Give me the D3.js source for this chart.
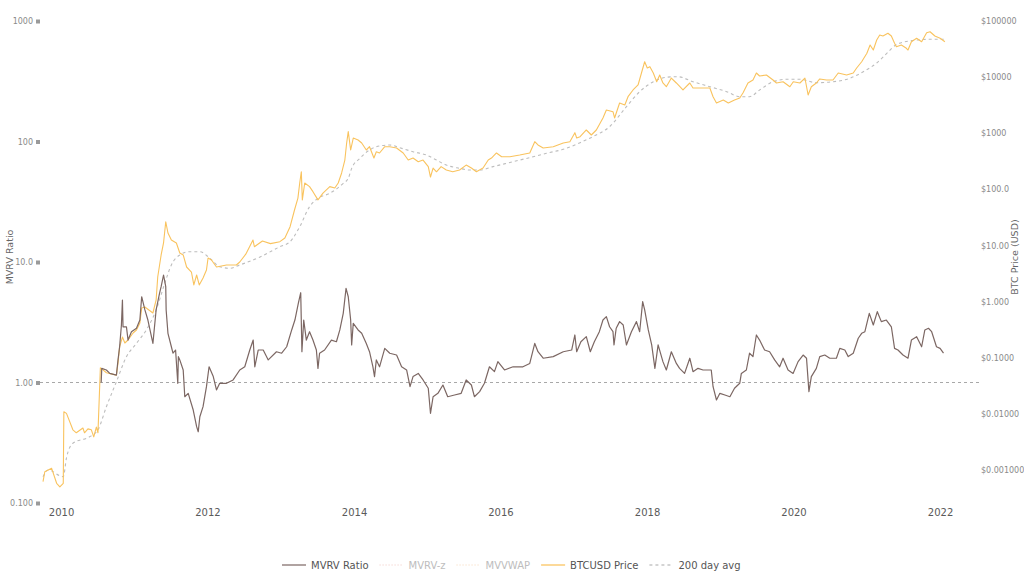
<!DOCTYPE html>
<html><head><meta charset="utf-8">
<script src="https://cdn.jsdelivr.net/npm/d3@7"></script>
<style>
body{margin:0;background:#fff;}
svg{display:block;font-family:"DejaVu Sans",Verdana,sans-serif;}
</style>
</head><body>
<svg id="chart" width="1024" height="588"></svg>
<script>
// ---------- DATA ----------
const mvrvRatio = [
["2010-07-20",1.0],["2010-07-23",1.31],["2010-08-15",1.27],["2010-09-01",1.19],["2010-10-04",1.15],
["2010-10-12",1.54],["2010-10-20",1.98],["2010-10-29",3.0],["2010-11-03",4.84],["2010-11-06",2.9],
["2010-11-23",2.9],["2010-12-01",2.25],["2010-12-18",2.64],["2011-01-12",2.82],["2011-01-29",3.3],
["2011-02-07",5.15],["2011-02-23",4.0],["2011-03-10",3.3],["2011-04-04",2.11],["2011-04-20",4.0],
["2011-05-07",5.5],["2011-05-15",6.24],["2011-05-27",7.8],["2011-06-07",6.24],["2011-06-09",4.0],
["2011-06-18",2.56],["2011-07-05",1.98],["2011-07-13",1.75],["2011-07-26",1.86],["2011-08-06",0.985],
["2011-08-09",1.64],["2011-08-16",1.54],["2011-09-02",1.27],["2011-09-10",0.762],["2011-09-27",0.813],
["2011-10-22",0.591],["2011-11-08",0.43],["2011-11-16",0.39],["2011-11-24",0.52],["2011-12-10",0.63],
["2011-12-27",0.923],["2012-01-09",1.35],["2012-01-30",1.12],["2012-02-15",0.867],["2012-03-02",0.985],
["2012-04-05",0.985],["2012-05-08",1.05],["2012-06-10",1.27],["2012-07-05",1.35],["2012-07-30",1.86],
["2012-08-16",2.25],["2012-08-24",1.35],["2012-09-10",1.86],["2012-10-05",1.86],["2012-10-30",1.54],
["2012-12-10",1.8],["2013-01-05",1.75],["2013-01-30",1.98],["2013-02-24",2.73],["2013-03-12",3.3],
["2013-03-29",4.54],["2013-04-10",5.56],["2013-04-16",1.8],["2013-04-25",3.3],["2013-05-08",2.25],
["2013-05-24",2.64],["2013-06-10",2.25],["2013-06-27",1.86],["2013-07-05",1.31],["2013-07-13",1.75],
["2013-08-07",1.86],["2013-09-10",2.25],["2013-10-05",2.18],["2013-10-22",2.73],["2013-11-08",3.75],
["2013-11-22",6.05],["2013-12-03",5.15],["2013-12-15",3.3],["2013-12-20",2.05],["2013-12-28",3.1],
["2014-01-21",2.73],["2014-02-08",2.56],["2014-03-03",2.11],["2014-03-19",1.8],["2014-04-05",1.35],
["2014-04-13",1.12],["2014-04-22",1.54],["2014-05-08",1.35],["2014-06-03",1.92],["2014-06-28",1.75],
["2014-08-01",1.69],["2014-08-26",1.35],["2014-09-20",1.27],["2014-10-07",0.923],["2014-10-22",1.12],
["2014-11-17",1.19],["2014-12-11",1.05],["2015-01-06",0.895],["2015-01-17",0.555],["2015-01-30",0.762],
["2015-02-23",0.813],["2015-03-20",0.953],["2015-04-13",0.762],["2015-05-17",0.787],["2015-06-19",0.813],
["2015-07-14",1.05],["2015-08-09",0.953],["2015-08-24",0.762],["2015-09-19",0.84],["2015-10-13",0.985],
["2015-11-07",1.35],["2015-12-02",1.23],["2015-12-19",1.49],["2016-01-21",1.27],["2016-03-04",1.35],
["2016-04-22",1.35],["2016-05-26",1.44],["2016-06-20",2.11],["2016-07-06",1.8],["2016-08-01",1.59],
["2016-09-20",1.64],["2016-11-09",1.8],["2016-12-21",1.86],["2017-01-06",2.48],["2017-01-15",1.8],
["2017-02-05",2.18],["2017-03-04",2.4],["2017-03-24",1.8],["2017-04-13",2.18],["2017-05-08",2.64],
["2017-05-26",3.3],["2017-06-12",3.52],["2017-06-28",2.9],["2017-07-15",2.64],["2017-07-20",2.05],
["2017-07-31",2.82],["2017-08-17",3.2],["2017-09-04",3.0],["2017-09-20",2.05],["2017-10-15",2.64],
["2017-11-09",3.2],["2017-11-25",2.64],["2017-12-10",4.69],["2017-12-20",4.0],["2018-01-07",2.73],
["2018-01-24",2.05],["2018-02-09",1.31],["2018-02-25",2.05],["2018-03-21",1.49],["2018-04-07",1.27],
["2018-05-02",1.8],["2018-05-27",1.44],["2018-06-12",1.31],["2018-07-07",1.19],["2018-08-02",1.59],
["2018-08-18",1.23],["2018-09-12",1.31],["2018-10-07",1.27],["2018-11-17",1.27],["2018-11-26",0.923],
["2018-12-13",0.716],["2018-12-30",0.813],["2019-01-24",0.787],["2019-02-18",0.762],["2019-03-13",0.895],
["2019-04-08",0.985],["2019-04-16",1.19],["2019-05-11",1.27],["2019-05-27",1.75],["2019-06-13",1.64],
["2019-06-30",2.48],["2019-07-16",2.25],["2019-08-10",1.86],["2019-09-04",1.8],["2019-09-29",1.54],
["2019-10-24",1.35],["2019-11-10",1.59],["2019-12-05",1.27],["2019-12-30",1.19],["2020-01-24",1.49],
["2020-02-18",1.69],["2020-03-06",1.59],["2020-03-18",0.84],["2020-03-30",1.12],["2020-04-24",1.31],
["2020-05-11",1.64],["2020-06-05",1.69],["2020-06-30",1.59],["2020-08-02",1.59],["2020-08-19",1.92],
["2020-09-13",1.86],["2020-09-30",1.64],["2020-10-25",1.75],["2020-11-19",2.33],["2020-12-06",2.56],
["2020-12-22",2.64],["2021-01-13",3.75],["2021-02-02",3.0],["2021-02-22",3.87],["2021-03-14",3.2],
["2021-04-08",3.3],["2021-05-03",2.9],["2021-05-19",1.92],["2021-06-05",1.86],["2021-06-30",1.69],
["2021-07-25",1.59],["2021-08-11",2.25],["2021-09-06",2.4],["2021-10-01",1.98],["2021-10-17",2.73],
["2021-11-04",2.82],["2021-11-20",2.64],["2021-12-14",1.98],["2022-01-01",1.92],["2022-01-18",1.75]
];

const btcPrice = [
["2009-10-03",0.00062],["2009-10-12",0.00093],["2009-11-15",0.00107],["2009-12-10",0.00058],["2009-12-26",0.00050],
["2010-01-12",0.00058],["2010-01-15",0.0109],["2010-01-28",0.0102],["2010-03-01",0.0052],["2010-03-18",0.0046],
["2010-04-20",0.0056],["2010-04-28",0.0046],["2010-05-15",0.0054],["2010-06-01",0.0052],["2010-06-13",0.0039],
["2010-06-26",0.0058],["2010-07-04",0.0046],["2010-07-16",0.066],["2010-07-29",0.061],["2010-08-15",0.054],
["2010-10-04",0.049],["2010-10-12",0.081],["2010-10-20",0.156],["2010-11-03",0.234],["2010-11-15",0.183],
["2010-12-01",0.207],["2010-12-26",0.276],["2011-01-12",0.312],["2011-01-29",0.416],["2011-02-07",0.77],
["2011-02-23",0.80],["2011-04-04",0.627],["2011-04-20",1.07],["2011-04-28",2.75],["2011-05-15",6.78],
["2011-05-27",11.1],["2011-06-07",26.5],["2011-06-18",16.7],["2011-07-05",12.5],["2011-07-30",11.1],
["2011-08-16",7.35],["2011-09-02",6.78],["2011-09-19",4.14],["2011-10-13",3.37],["2011-10-25",1.98],
["2011-11-08",2.98],["2011-11-21",1.98],["2011-12-10",2.64],["2011-12-27",3.66],["2012-01-04",5.98],
["2012-01-21",5.52],["2012-02-15",4.14],["2012-04-05",4.5],["2012-05-24",4.5],["2012-06-10",5.08],
["2012-07-10",7.0],["2012-08-15",12.5],["2012-08-22",9.5],["2012-10-01",12.0],["2012-11-10",10.8],
["2012-12-27",11.7],["2013-01-21",13.6],["2013-02-16",21.6],["2013-03-10",42.9],["2013-03-27",70],
["2013-04-05",130],["2013-04-13",206],["2013-04-18",65],["2013-04-30",130],["2013-05-24",112],
["2013-06-10",91],["2013-07-05",65],["2013-07-30",86],["2013-09-02",112],["2013-09-27",106],
["2013-10-14",130],["2013-10-31",196],["2013-11-16",333],["2013-11-25",670],["2013-12-03",1067],
["2013-12-15",503],["2013-12-28",822],["2014-01-21",759],["2014-02-08",670],["2014-03-03",503],
["2014-03-19",576],["2014-04-10",362],["2014-04-22",469],["2014-05-08",445],["2014-06-03",576],
["2014-06-28",576],["2014-08-01",546],["2014-09-03",445],["2014-09-28",333],["2014-10-22",362],
["2014-11-17",311],["2014-12-11",333],["2015-01-06",254],["2015-01-17",166],["2015-01-30",240],
["2015-02-16",206],["2015-03-11",254],["2015-04-06",221],["2015-05-08",206],["2015-06-11",221],
["2015-07-14",271],["2015-08-09",240],["2015-09-03",206],["2015-10-06",240],["2015-11-01",333],
["2015-11-17",362],["2015-12-12",445],["2016-01-07",382],["2016-02-17",382],["2016-04-06",409],
["2016-05-26",445],["2016-06-20",708],["2016-07-06",618],["2016-08-01",546],["2016-09-20",576],
["2016-11-09",670],["2016-12-12",708],["2017-01-06",1023],["2017-01-15",822],["2017-02-01",869],
["2017-03-04",1143],["2017-03-29",931],["2017-04-23",1143],["2017-05-26",1871],["2017-06-12",2594],
["2017-07-15",2421],["2017-07-23",1871],["2017-08-17",3459],["2017-09-12",3186],["2017-09-28",4480],
["2017-10-23",5902],["2017-11-17",7244],["2017-12-04",11850],["2017-12-20",18800],["2018-01-02",14540],
["2018-01-15",15340],["2018-02-01",11850],["2018-02-18",8280],["2018-03-05",10920],["2018-03-21",7860],
["2018-04-07",6750],["2018-05-02",9640],["2018-05-27",7860],["2018-06-29",5902],["2018-08-02",7860],
["2018-08-18",6400],["2018-09-21",6400],["2018-11-10",6400],["2018-11-26",4480],["2018-12-13",3459],
["2019-01-16",3910],["2019-02-10",3459],["2019-03-13",3910],["2019-04-08",4250],["2019-04-24",5210],
["2019-05-19",7860],["2019-06-13",8890],["2019-06-30",11850],["2019-07-16",10470],["2019-08-19",10920],
["2019-09-21",8890],["2019-10-08",7860],["2019-11-10",8280],["2019-12-14",6750],["2019-12-31",8280],
["2020-02-02",7860],["2020-02-27",9640],["2020-03-14",4800],["2020-03-30",6750],["2020-04-24",7860],
["2020-05-11",9270],["2020-06-14",8890],["2020-07-16",8890],["2020-08-11",11850],["2020-09-22",10920],
["2020-10-25",11850],["2020-11-11",14540],["2020-12-06",18800],["2021-01-01",26700],["2021-01-17",37350],
["2021-02-02",30400],["2021-02-19",45850],["2021-03-06",56300],["2021-03-22",54000],["2021-04-16",60400],
["2021-05-03",54000],["2021-05-19",40100],["2021-05-28",34800],["2021-06-22",37350],["2021-07-17",32650],
["2021-07-25",30400],["2021-08-11",42800],["2021-09-06",49200],["2021-10-01",42800],["2021-10-26",61900],
["2021-11-12",64400],["2021-12-06",54000],["2022-01-01",49200],["2022-01-25",42800]
];

const btcPrice200d = [
["2009-10-03",0.00076],["2009-10-28",0.0010],["2010-01-12",0.00076],["2010-01-28",0.00164],["2010-03-01",0.0030],
["2010-05-23",0.0039],["2010-07-04",0.0052],["2010-08-15",0.0134],["2010-10-04",0.0374],["2010-11-23",0.1045],
["2011-01-12",0.181],["2011-03-02",0.312],["2011-04-20",0.709],["2011-06-02",2.12],["2011-07-05",4.5],
["2011-08-16",6.78],["2011-10-05",7.76],["2011-11-24",7.76],["2012-01-13",5.91],["2012-03-02",4.19],
["2012-04-21",3.93],["2012-06-10",4.5],["2012-09-17",6.2],["2012-12-27",9.52],["2013-02-16",11.7],
["2013-04-05",21.6],["2013-05-24",49.1],["2013-07-05",69.3],["2013-09-02",85.1],["2013-11-08",128],
["2013-12-03",157],["2013-12-20",237],["2014-01-30",358],["2014-03-19",503],["2014-05-08",593],
["2014-06-28",618],["2014-08-16",552],["2014-10-22",469],["2014-12-28",409],["2015-02-16",333],
["2015-04-06",271],["2015-06-11",237],["2015-07-31",221],["2015-09-19",221],["2015-11-25",254],
["2016-03-04",311],["2016-06-12",382],["2016-08-17",440],["2016-11-09",517],["2017-02-01",679],
["2017-04-05",869],["2017-06-28",1309],["2017-09-20",2973],["2017-11-25",5500],["2018-02-01",8280],
["2018-04-07",9930],["2018-06-03",10180],["2018-08-18",8280],["2018-11-10",6750],["2019-02-02",5500],
["2019-04-08",4480],["2019-05-27",4480],["2019-07-16",5902],["2019-09-21",8280],["2019-11-28",9150],
["2020-02-02",9150],["2020-04-24",7960],["2020-07-16",8280],["2020-10-08",9530],["2020-12-14",12500],
["2021-02-19",17850],["2021-04-15",27500],["2021-05-29",38150],["2021-08-19",45000],["2021-11-12",47200],
["2022-01-19",47200]
];

const mvrvTickValues = [0.1, 1, 10, 100, 1000];
const mvrvTickLabels = ["0.100", "1.00", "10.0", "100", "1000"];
const priceTickValues = [0.001, 0.01, 0.1, 1, 10, 100, 1000, 10000, 100000];
const priceTickLabels = ["$0.001000", "$0.01000", "$0.1000", "$1.000", "$10.00", "$100.0", "$1000", "$10000", "$100000"];
const yearTicks = [2010, 2012, 2014, 2016, 2018, 2020, 2022];
const legendLabels = ["MVRV Ratio", "MVRV-z", "MVVWAP", "BTCUSD Price", "200 day avg"];
const referenceLevel = 1;

// ---------- CHART ----------
const svg = d3.select("#chart");
const parse = d3.utcParse("%Y-%m-%d");
const toPts = arr => arr.map(d => ({date: parse(d[0]), value: d[1]}));

const plot = {left: 40, right: 980, top: 21, bottom: 503};

const x = d3.scaleUtc()
  .domain([Date.UTC(2009, 8, 18), Date.UTC(2022, 6, 19)])
  .range([plot.left, plot.right]);
const yL = d3.scaleLog().domain([0.1, 1000]).range([plot.bottom, plot.top]);
const yR = d3.scaleLog().domain([0.001, 100000]).range([470, plot.top]);

const COL_MVRV = "#7c6763";
const COL_PRICE = "#f9c35e";
const COL_AVG = "#bdbdbd";

// reference line at MVRV = 1
svg.append("line")
  .attr("x1", plot.left).attr("x2", plot.right)
  .attr("y1", yL(referenceLevel)).attr("y2", yL(referenceLevel))
  .attr("stroke", "#a8a8a8").attr("stroke-width", 1).attr("stroke-dasharray", "3,3");

// 200 day avg
const lineR = d3.line().x(d => x(d.date)).y(d => yR(d.value)).curve(d3.curveMonotoneX);
svg.append("path").datum(toPts(btcPrice200d))
  .attr("d", lineR).attr("fill", "none")
  .attr("stroke", COL_AVG).attr("stroke-width", 1.1).attr("stroke-dasharray", "3,3");

// price
const lineRaw = d3.line().x(d => x(d.date)).y(d => yR(d.value));
svg.append("path").datum(toPts(btcPrice))
  .attr("d", lineRaw).attr("fill", "none")
  .attr("stroke", COL_PRICE).attr("stroke-width", 1.1).attr("stroke-linejoin", "round");

// MVRV
const lineL = d3.line().x(d => x(d.date)).y(d => yL(d.value));
svg.append("path").datum(toPts(mvrvRatio))
  .attr("d", lineL).attr("fill", "none")
  .attr("stroke", COL_MVRV).attr("stroke-width", 1.2).attr("stroke-linejoin", "round");

// left axis
const leftAxis = d3.axisLeft(yL).tickValues(mvrvTickValues)
  .tickFormat((d, i) => mvrvTickLabels[i]).tickSize(0).tickPadding(6);
const gL = svg.append("g").attr("transform", `translate(${plot.left - 1},0)`).call(leftAxis);
gL.select(".domain").remove();
gL.selectAll("text").attr("font-size", 8).attr("fill", "#8a8a8a")
  .attr("font-family", '"DejaVu Sans",Verdana,sans-serif');
gL.selectAll(".tick").append("rect")
  .attr("x", -3).attr("y", -2).attr("width", 4).attr("height", 4).attr("fill", "#9a9a9a");

// right axis
const rightAxis = d3.axisRight(yR).tickValues(priceTickValues)
  .tickFormat((d, i) => priceTickLabels[i]).tickSize(0).tickPadding(1);
const gR = svg.append("g").attr("transform", `translate(${plot.right},0)`).call(rightAxis);
gR.select(".domain").remove();
gR.selectAll("text").attr("font-size", 8).attr("fill", "#8a8a8a")
  .attr("font-family", '"DejaVu Sans",Verdana,sans-serif');

// bottom axis
const bottomAxis = d3.axisBottom(x)
  .tickValues(yearTicks.map(yr => new Date(Date.UTC(yr, 0, 1))))
  .tickFormat(d3.utcFormat("%Y")).tickSize(0).tickPadding(6);
const gB = svg.append("g").attr("transform", `translate(0,${plot.bottom})`).call(bottomAxis);
gB.select(".domain").remove();
gB.selectAll("text").attr("font-size", 10).attr("fill", "#5a5a5a")
  .attr("font-family", '"DejaVu Sans",Verdana,sans-serif');

// axis titles
const midY = (plot.top + plot.bottom) / 2;
svg.append("text").attr("transform", `translate(13,${midY - 5}) rotate(-90)`)
  .attr("text-anchor", "middle").attr("font-size", 9.5).attr("fill", "#666").text("MVRV Ratio");
svg.append("text").attr("transform", `translate(1018,${midY - 5}) rotate(-90)`)
  .attr("text-anchor", "middle").attr("font-size", 9.5).attr("fill", "#666").text("BTC Price (USD)");

// legend
const legendStyles = [
  {stroke: COL_MVRV, dash: null, sw: 1.5, text: "#555", opacity: 0.8},
  {stroke: "#f2c7c1", dash: "1,2", sw: 1.2, text: "#bdbdbd", opacity: 1},
  {stroke: "#f6d6b8", dash: "1,2", sw: 1.2, text: "#bdbdbd", opacity: 1},
  {stroke: COL_PRICE, dash: null, sw: 1.5, text: "#555", opacity: 0.85},
  {stroke: "#aaaaaa", dash: "3,3", sw: 1.1, text: "#555", opacity: 1}
];
const legendY = 565;
const legend = svg.append("g");
let lx = 282;
legendLabels.forEach((label, i) => {
  const st = legendStyles[i];
  const g = legend.append("g").attr("transform", `translate(${lx},${legendY})`);
  g.append("line").attr("x1", 0).attr("x2", 24).attr("y1", 0).attr("y2", 0)
    .attr("stroke", st.stroke).attr("stroke-width", st.sw).attr("stroke-opacity", st.opacity)
    .attr("stroke-dasharray", st.dash);
  const t = g.append("text").attr("x", 29).attr("y", 0).attr("dy", "0.35em")
    .attr("font-size", 10).attr("fill", st.text).text(label);
  lx += 29 + t.node().getComputedTextLength() + 11;
});
</script>
</body></html>
